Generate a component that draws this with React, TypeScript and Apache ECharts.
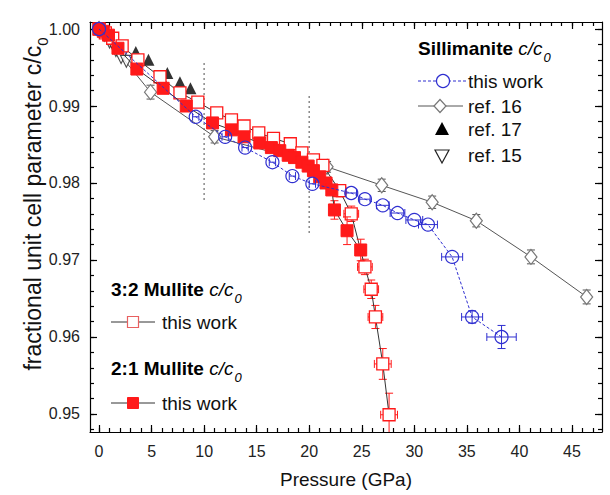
import React, { useEffect, useRef } from "react";
import * as echarts from "echarts";

const FONT = "'Liberation Sans', Arial, Helvetica, sans-serif";
const RED = "#ff1a1a";
const BLUE = "#2f2fd0";
const GRAY = "#555555";

// axis ranges and ticks
const X_MIN = -0.86;
const X_MAX = 47.86;
const Y_MIN = 0.94766;
const Y_MAX = 1.00091;
const xMajor = [0, 5, 10, 15, 20, 25, 30, 35, 40, 45];
const xMinor = Array.from({ length: 48 }, (_, i) => i);
const yMajor = [0.95, 0.96, 0.97, 0.98, 0.99, 1.0];
const yMinor = Array.from({ length: 27 }, (_, i) => +(0.948 + i * 0.002).toFixed(3));

// Sillimanite, this work (blue open circles)
const sillP = [0, 9.2, 12.0, 13.9, 16.5, 18.4, 20.3, 24.0, 25.3, 27.0, 28.4, 30.0, 31.3, 33.6, 35.5, 38.3];
const sillC = [1.0, 0.9886, 0.986, 0.9846, 0.9827, 0.9809, 0.9799, 0.9787, 0.9779, 0.9771, 0.9761, 0.9752, 0.9746, 0.9704, 0.9626, 0.96];
const sillPErr = [0, 0.3, 0.3, 0.3, 0.3, 0.3, 0.3, 0.5, 0.5, 0.6, 0.7, 0.8, 0.9, 1.0, 1.0, 1.4];
const sillCErr = [0, 0, 0, 0, 0, 0, 0, 0, 0, 0, 0, 0, 0, 0, 0.0008, 0.0015];

// ref. 16 (open diamonds)
const ref16P = [0, 4.9, 11.0, 21.7, 26.9, 31.7, 35.9, 41.1, 46.4];
const ref16C = [1.0, 0.9918, 0.986, 0.9821, 0.9797, 0.9775, 0.9751, 0.9704, 0.9652];
const ref16CErr = [0, 0.0009, 0.0008, 0.0007, 0.0008, 0.0008, 0.0008, 0.0009, 0.0009];

// ref. 17 (black triangles)
const ref17P = [0, 1.7, 3.5, 4.7, 6.5, 7.7, 8.7];
const ref17C = [1.0, 0.9983, 0.997, 0.996, 0.9943, 0.9931, 0.9923];

// ref. 15 (open down triangles)
const ref15P = [0.5, 1.0, 1.6, 2.1, 2.6];
const ref15C = [0.9992, 0.9983, 0.9972, 0.9963, 0.9958];

// 3:2 Mullite (open squares)
const m32P = [0, 0.6, 1.3, 2.2, 3.7, 5.8, 7.7, 9.4, 11.2, 12.6, 13.8, 15.2, 16.6, 18.2, 19.3, 20.4, 21.3, 22.9, 24.0, 25.3, 25.9, 26.3, 27.0, 27.6];
const m32C = [1.0, 0.9995, 0.9988, 0.9978, 0.996, 0.9938, 0.9917, 0.9905, 0.9891, 0.9882, 0.9874, 0.9865, 0.9858, 0.9851, 0.9839, 0.983, 0.9823, 0.979, 0.976, 0.9691, 0.9662, 0.9626, 0.9565, 0.9499];
const m32PErr = [0, 0, 0, 0, 0.2, 0.2, 0.2, 0.3, 0.3, 0.3, 0.3, 0.3, 0.3, 0.3, 0.4, 0.4, 0.4, 0.6, 0.7, 0.7, 0.7, 0.7, 0.8, 0.8];
const m32CErr = [0, 0, 0, 0, 0, 0, 0, 0, 0, 0, 0, 0, 0, 0, 0, 0, 0, 0.0008, 0.001, 0.001, 0.0012, 0.0015, 0.002, 0.0028];

// 2:1 Mullite (filled squares)
const m21P = [0, 0.4, 0.9, 1.8, 3.6, 6.1, 8.3, 10.8, 12.6, 13.8, 15.3, 16.4, 17.2, 18.0, 18.6, 19.3, 19.9, 20.4, 21.0, 21.6, 22.15, 22.4, 23.6, 24.9];
const m21C = [1.0, 0.9997, 0.9992, 0.9975, 0.9948, 0.9923, 0.99, 0.9878, 0.9869, 0.986, 0.9852, 0.9846, 0.9842, 0.9836, 0.9833, 0.9827, 0.9822, 0.9816, 0.9808, 0.98, 0.9791, 0.9765, 0.9738, 0.9713];
const m21PErr = [0, 0, 0, 0, 0, 0, 0, 0, 0, 0, 0, 0, 0, 0, 0, 0, 0, 0, 0, 0, 0, 0.4, 0.5, 0.5];
const m21CErr = [0, 0, 0, 0, 0, 0, 0, 0, 0, 0, 0, 0, 0, 0, 0, 0, 0, 0, 0, 0, 0, 0.0012, 0.0018, 0.0014];

// dotted guide lines
const guideX = [10, 20];
const guideTop = [0.9956, 0.9913];
const guideBottom = [0.9778, 0.9735];

const pairs = (xs: number[], ys: number[]) => xs.map((x, i) => [x, ys[i]]);
const quads = (xs: number[], ys: number[], ex: number[], ey: number[]) =>
  xs.map((x, i) => [x, ys[i], ex[i], ey[i]]);

function errSeries(data: number[][], color: string, cap: number, z: number) {
  return {
    type: "custom",
    xAxisIndex: 0,
    yAxisIndex: 0,
    silent: true,
    clip: true,
    z,
    data,
    encode: { x: 0, y: 1 },
    renderItem: (_params: any, api: any) => {
      const x = api.value(0);
      const y = api.value(1);
      const ex = api.value(2);
      const ey = api.value(3);
      const st = { stroke: color, lineWidth: 1 };
      const kids: any[] = [];
      const seg = (x1: number, y1: number, x2: number, y2: number) =>
        kids.push({ type: "line", shape: { x1, y1, x2, y2 }, style: st });
      if (ex > 0) {
        const a = api.coord([x - ex, y]);
        const b = api.coord([x + ex, y]);
        seg(a[0], a[1], b[0], b[1]);
        seg(a[0], a[1] - cap, a[0], a[1] + cap);
        seg(b[0], b[1] - cap, b[0], b[1] + cap);
      }
      if (ey > 0) {
        const a = api.coord([x, y - ey]);
        const b = api.coord([x, y + ey]);
        seg(a[0], a[1], b[0], b[1]);
        seg(a[0] - cap, a[1], a[0] + cap, a[1]);
        seg(b[0] - cap, b[1], b[0] + cap, b[1]);
      }
      return { type: "group", children: kids };
    },
  };
}

function xAxisDef(position: "top" | "bottom", major: boolean, labels: boolean) {
  return {
    type: "value",
    min: X_MIN,
    max: X_MAX,
    position,
    name: labels ? "Pressure (GPa)" : "",
    nameLocation: "middle",
    nameGap: 38,
    nameTextStyle: { fontFamily: FONT, fontSize: 19, color: "#111" },
    axisLine: { show: major, onZero: false, lineStyle: { color: "#000", width: 1.2 } },
    axisTick: {
      show: true,
      inside: true,
      length: major ? 7 : 4,
      customValues: major ? xMajor : xMinor,
      lineStyle: { color: "#000", width: 1.2 },
    },
    axisLabel: {
      show: labels,
      customValues: xMajor,
      margin: 11,
      fontFamily: FONT,
      fontSize: 16,
      color: "#222",
      formatter: (v: number) => String(Math.round(v)),
    },
    splitLine: { show: false },
  };
}

function yAxisDef(position: "left" | "right", major: boolean, labels: boolean) {
  return {
    type: "value",
    min: Y_MIN,
    max: Y_MAX,
    position,
    axisLine: { show: major, onZero: false, lineStyle: { color: "#000", width: 1.2 } },
    axisTick: {
      show: true,
      inside: true,
      length: major ? 7 : 4,
      customValues: major ? yMajor : yMinor,
      lineStyle: { color: "#000", width: 1.2 },
    },
    axisLabel: {
      show: labels,
      customValues: yMajor,
      margin: 10,
      fontFamily: FONT,
      fontSize: 16,
      color: "#222",
      formatter: (v: number) => v.toFixed(2),
    },
    splitLine: { show: false },
  };
}

// rich styles: main tokens aligned to the top of a slightly taller line, subscript at its bottom
const titleRich = {
  b: { fontFamily: FONT, fontSize: 19, fontWeight: "bold", fill: "#000", lineHeight: 22, verticalAlign: "top" },
  i: { fontFamily: FONT, fontSize: 19, fontStyle: "italic", fill: "#000", lineHeight: 22, verticalAlign: "top" },
  s: { fontFamily: FONT, fontSize: 13, fontStyle: "italic", fill: "#000", lineHeight: 25, verticalAlign: "bottom", padding: [0, 0, 0, 1] },
};

function legendText(x: number, y: number, text: string) {
  return {
    type: "text",
    x,
    y,
    style: { text, fontFamily: FONT, fontSize: 19, fill: "#111", align: "left", verticalAlign: "middle" },
  };
}

function legendTitle(x: number, y: number, bold: string) {
  // y is the centre of the main text line
  return {
    type: "text",
    x,
    y: y - 11,
    style: {
      text: `{b|${bold} }{i|c/c}{s|0}`,
      rich: titleRich,
      align: "left",
      verticalAlign: "top",
    },
  };
}

const graphics: any[] = [
  // y axis title
  {
    type: "text",
    x: 21,
    y: 204,
    rotation: Math.PI / 2,
    style: {
      text: "{t|fractional unit cell parameter c/c}{s|0}",
      rich: {
        t: { fontFamily: FONT, fontSize: 23, fill: "#111", lineHeight: 26, verticalAlign: "top" },
        s: { fontFamily: FONT, fontSize: 15, fill: "#111", lineHeight: 29, verticalAlign: "bottom" },
      },
      align: "center",
      verticalAlign: "top",
    },
  },
  // Sillimanite legend
  legendTitle(418, 50, "Sillimanite"),
  { type: "line", shape: { x1: 418, y1: 81, x2: 467, y2: 81 }, style: { stroke: BLUE, lineWidth: 1, lineDash: [3, 2] } },
  { type: "circle", shape: { cx: 443, cy: 81, r: 6.5 }, style: { fill: "#fff", stroke: BLUE, lineWidth: 1.2 } },
  legendText(468, 81, "this work"),
  { type: "line", shape: { x1: 418, y1: 106, x2: 463, y2: 106 }, style: { stroke: GRAY, lineWidth: 1 } },
  { type: "polygon", shape: { points: [[440, 99.5], [446, 106], [440, 112.5], [434, 106]] }, style: { fill: "#fff", stroke: "#777", lineWidth: 1.2 } },
  legendText(468, 106, "ref. 16"),
  { type: "polygon", shape: { points: [[442, 122], [449, 135], [435, 135]] }, style: { fill: "#000" } },
  legendText(468, 129, "ref. 17"),
  { type: "polygon", shape: { points: [[435, 150], [449, 150], [442, 163]] }, style: { fill: "#fff", stroke: "#222", lineWidth: 1.2 } },
  legendText(468, 155, "ref. 15"),
  // Mullite legends
  legendTitle(111, 291, "3:2 Mullite"),
  { type: "line", shape: { x1: 111, y1: 322, x2: 155, y2: 322 }, style: { stroke: "#333", lineWidth: 1 } },
  { type: "rect", shape: { x: 127.5, y: 316.5, width: 11, height: 11 }, style: { fill: "#fff", stroke: "#e86060", lineWidth: 1.2 } },
  legendText(162, 322, "this work"),
  legendTitle(111, 370, "2:1 Mullite"),
  { type: "line", shape: { x1: 111, y1: 403, x2: 155, y2: 403 }, style: { stroke: "#333", lineWidth: 1 } },
  { type: "rect", shape: { x: 127.5, y: 397.5, width: 11, height: 11 }, style: { fill: RED, stroke: RED, lineWidth: 1 } },
  legendText(162, 403, "this work"),
];

const option: any = {
  animation: false,
  backgroundColor: "#fff",
  textStyle: { fontFamily: FONT },
  grid: { left: 90, right: 8, top: 22, bottom: 63, containLabel: false },
  xAxis: [
    xAxisDef("bottom", true, true),
    xAxisDef("bottom", false, false),
    xAxisDef("top", true, false),
    xAxisDef("top", false, false),
  ],
  yAxis: [
    yAxisDef("left", true, true),
    yAxisDef("left", false, false),
    yAxisDef("right", true, false),
    yAxisDef("right", false, false),
  ],
  graphic: graphics,
  series: [
    // dotted guides
    ...guideX.map((gx, i) => ({
      type: "line",
      xAxisIndex: 0,
      yAxisIndex: 0,
      silent: true,
      symbol: "none",
      z: 1,
      lineStyle: { color: "#888", width: 1.5, type: [2, 3] },
      data: [
        [gx, guideTop[i]],
        [gx, guideBottom[i]],
      ],
    })),
    // ref 16
    errSeries(quads(ref16P, ref16C, ref16P.map(() => 0), ref16CErr), "#555", 4, 2),
    {
      type: "line",
      xAxisIndex: 0,
      yAxisIndex: 0,
      z: 2,
      symbol: "diamond",
      symbolSize: [12, 15],
      lineStyle: { color: GRAY, width: 1 },
      itemStyle: { color: "#fff", borderColor: "#777", borderWidth: 1.2 },
      data: pairs(ref16P, ref16C),
    },
    // ref 15
    {
      type: "scatter",
      xAxisIndex: 0,
      yAxisIndex: 0,
      z: 3,
      symbol: "triangle",
      symbolRotate: 180,
      symbolSize: 12,
      itemStyle: { color: "#fff", borderColor: "#222", borderWidth: 1.1 },
      data: pairs(ref15P, ref15C),
    },
    // ref 17
    {
      type: "scatter",
      xAxisIndex: 0,
      yAxisIndex: 0,
      z: 3,
      symbol: "triangle",
      symbolSize: 12,
      itemStyle: { color: "#000" },
      data: pairs(ref17P, ref17C),
    },
    // 3:2 Mullite open squares
    errSeries(quads(m32P, m32C, m32PErr, m32CErr), RED, 4, 4),
    {
      type: "line",
      xAxisIndex: 0,
      yAxisIndex: 0,
      z: 4,
      symbol: "rect",
      symbolSize: 12,
      lineStyle: { color: "#333", width: 1 },
      itemStyle: { color: "#fff", borderColor: RED, borderWidth: 1.3 },
      data: pairs(m32P, m32C),
    },
    // 2:1 Mullite filled squares
    errSeries(quads(m21P, m21C, m21PErr, m21CErr), RED, 4, 5),
    {
      type: "line",
      xAxisIndex: 0,
      yAxisIndex: 0,
      z: 5,
      symbol: "rect",
      symbolSize: 12,
      lineStyle: { color: "#333", width: 1 },
      itemStyle: { color: RED, borderColor: RED, borderWidth: 1 },
      data: pairs(m21P, m21C),
    },
    // Sillimanite this work
    {
      type: "line",
      xAxisIndex: 0,
      yAxisIndex: 0,
      z: 6,
      symbol: "circle",
      symbolSize: 13,
      lineStyle: { color: BLUE, width: 1, type: [3, 2] },
      itemStyle: { color: "rgba(255,255,255,0)", borderColor: BLUE, borderWidth: 1.2 },
      data: pairs(sillP, sillC),
    },
    errSeries(quads(sillP, sillC, sillPErr, sillCErr), BLUE, 4, 6),
  ],
};

export default function App() {
  const ref = useRef<HTMLDivElement>(null);
  useEffect(() => {
    document.body.style.margin = "0";
    const chart = echarts.init(ref.current!, null, { renderer: "svg" });
    chart.setOption(option);
    return () => chart.dispose();
  }, []);
  return <div ref={ref} style={{ width: 610, height: 495, background: "#fff" }} />;
}
